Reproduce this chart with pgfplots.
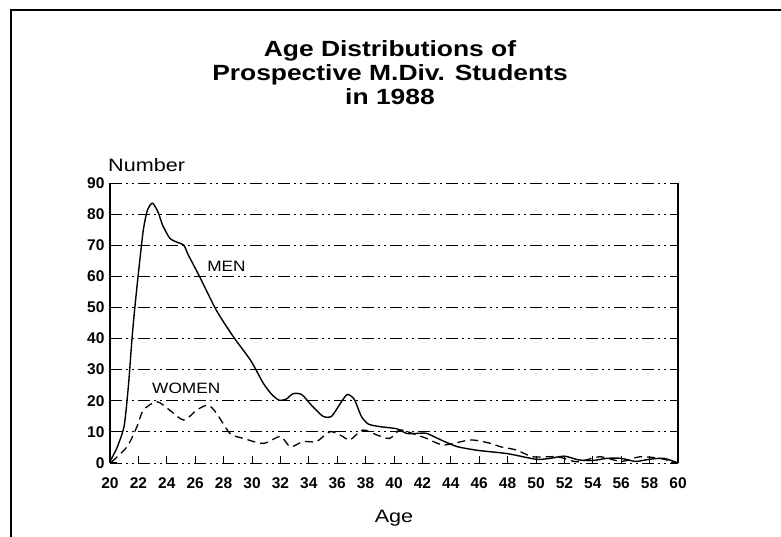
\documentclass[border=0pt]{standalone}
\usepackage{pgfplots}
\pgfplotsset{compat=1.18}
\usepackage{fontspec}
\setmainfont{Liberation Sans}
\usepackage{graphicx}
\begin{document}
\begin{tikzpicture}[x=1pt,y=1pt]
\useasboundingbox (0,0) rectangle (781,537);
\draw[line width=1.3pt] (11,0) -- (11,527) -- (781,527);
\begin{axis}[at={(110pt,74pt)}, anchor=south west, scale only axis,
  width=568pt, height=280pt,
  xmin=20, xmax=60, ymin=0, ymax=90,
  xtick={20,22,...,60}, ytick={0,10,...,90},
  separate axis lines,
  x axis line style={draw=none},
  y axis line style={line width=1.3pt},
  ymajorgrids,
  grid style={black, line width=0.8pt, dash pattern=on 12pt off 4pt on 2pt off 4pt on 2pt off 4pt},
  tick align=inside, xtick pos=left, ytick pos=both,
  major tick length=7pt, tick style={black, line width=1pt},
  ticklabel style={font=\bfseries\fontsize{15.5}{18}\selectfont},
  xticklabel style={yshift=-11pt},
  yticklabel style={xshift=-2pt},
  /pgf/number format/assume math mode=true,
  clip=false]
\addplot[black, line width=1.4pt, smooth, tension=0.4] coordinates {
(20.0,0.5) (20.5,5) (21.0,12) (21.3,25) (21.55,40) (21.75,50) (22.0,61)
(22.35,75) (22.65,81.5) (23.0,83.5) (23.4,80.5) (23.7,76.5) (24.2,72.3)
(24.7,71) (25.2,70) (25.5,67) (26.3,60) (27.5,49) (28.7,40.5) (29.9,33)
(30.8,25.6) (31.4,22) (31.9,20.2) (32.4,20.5) (32.9,22.3) (33.5,22)
(34.2,18.5) (35.0,15) (35.6,15) (36.2,19) (36.7,22) (37.2,20.5) (37.7,15)
(38.2,12.5) (39.0,11.7) (40.2,11) (40.9,9.5) (41.6,9.5) (42.3,9.5)
(43.5,7) (44.5,5.2) (46,4) (48,3) (50,1.2) (51,1.5) (52,2.2) (53,1)
(54,0.8) (55,1.5) (56,1.5) (57,0.5) (58,1.2) (59,1.5) (60,0)};
\addplot[black, line width=1.3pt, smooth, tension=0.45, dash pattern=on 8pt off 5pt] coordinates {
(20.1,0.3) (21.2,5.2) (21.9,11.7) (22.35,17) (23.3,19.7) (24.2,17)
(25.2,13.8) (26.1,17) (26.9,18.6) (27.5,16) (28.45,9.5) (29.4,7.9)
(30.8,6.3) (32.0,8.5) (32.7,5.2) (33.6,6.9) (34.55,6.9) (35.5,10.1)
(36.4,8.5) (36.9,7.4) (37.8,10.6) (38.8,9.0) (39.7,7.9) (40.4,10.6)
(41.3,9.5) (42.3,7.9) (43.5,5.8) (45.4,7.4) (46.8,6.3) (47.5,5.2)
(48.6,4.2) (49.8,2) (51.5,2) (52.9,0.4) (54.5,2) (56,0.5) (57.3,2)
(58.7,1.5) (60,0)};
\node[font=\fontsize{15}{17}\selectfont] at (axis cs:28.2,63.1) {\scalebox{1.15}[1]{MEN}};
\node[font=\fontsize{15}{17}\selectfont] at (axis cs:25.37,24.0) {\scalebox{1.15}[1]{WOMEN}};
\end{axis}
\node[anchor=base, font=\bfseries\fontsize{22}{24}\selectfont] at (390,480) {\scalebox{1.2}[1]{Age Distributions of}};
\node[anchor=base, font=\bfseries\fontsize{22}{24}\selectfont] at (390,456) {\scalebox{1.2}[1]{Prospective M.Div. Students}};
\node[anchor=base, font=\bfseries\fontsize{22}{24}\selectfont] at (390,432) {\scalebox{1.2}[1]{in 1988}};
\node[anchor=base west, inner sep=0pt, font=\fontsize{18}{20}\selectfont] at (108,365) {\scalebox{1.2}[1]{Number}};
\node[anchor=base, inner sep=0pt, font=\fontsize{18}{20}\selectfont] at (394,14) {\scalebox{1.2}[1]{Age}};
\end{tikzpicture}
\end{document}
